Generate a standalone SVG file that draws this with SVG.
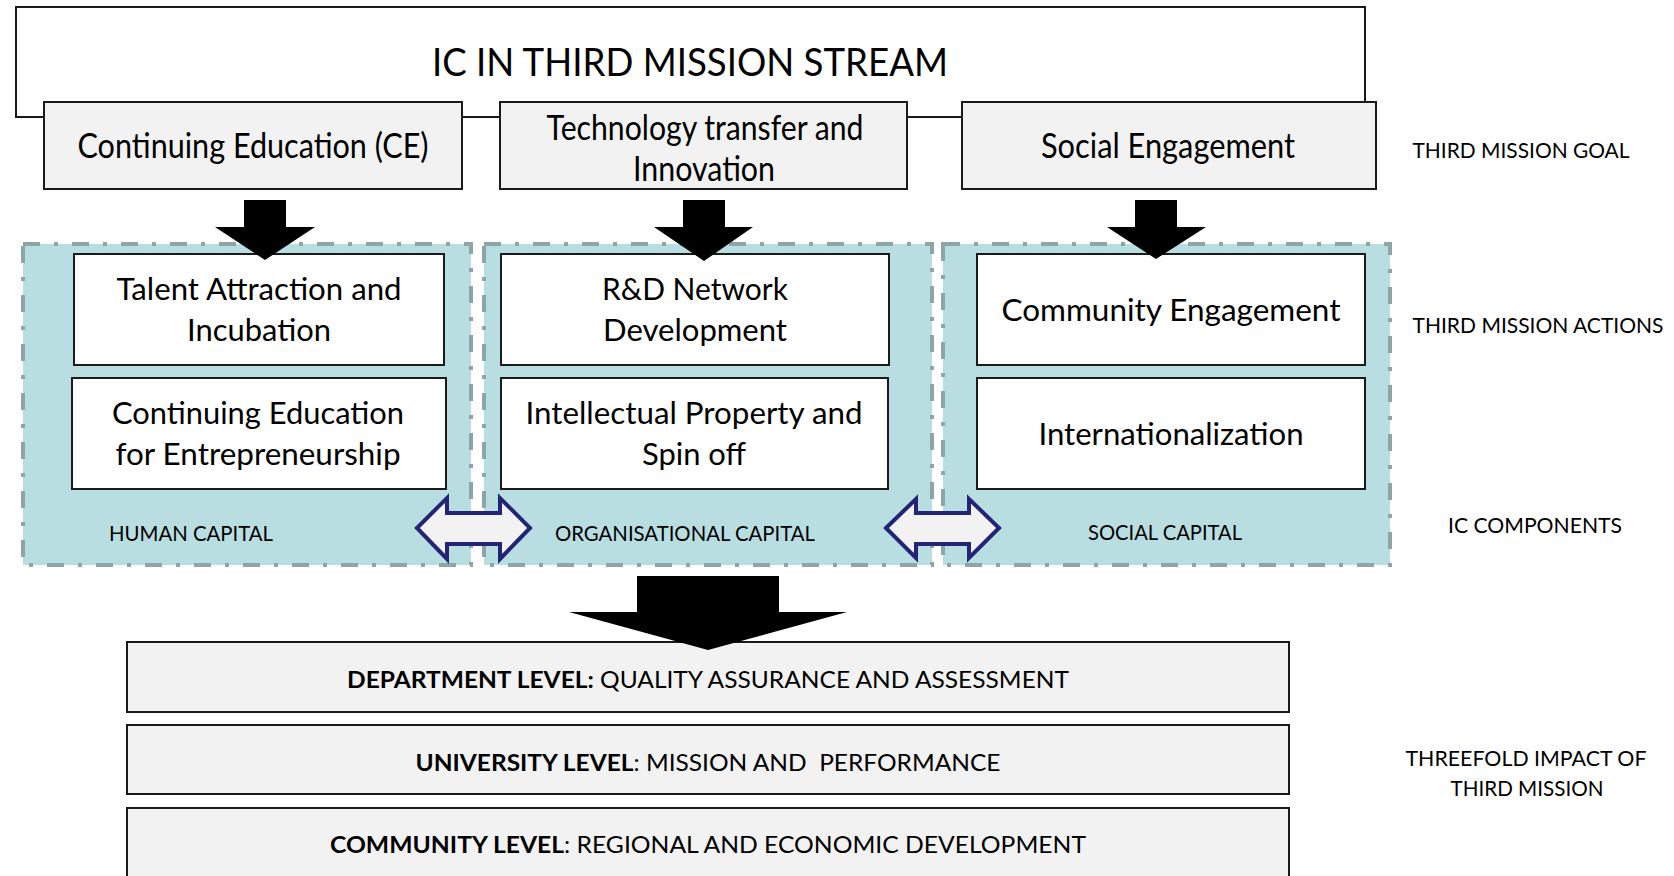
<svg xmlns="http://www.w3.org/2000/svg" width="1674" height="876" viewBox="0 0 1674 876">
<style>
text { font-family: Lato, "Open Sans", "Liberation Sans", sans-serif; fill:#000; text-anchor:middle; }
.box { stroke:#1a1a1a; stroke-width:2; }
.grey { fill:#f2f2f2; }
.white { fill:#ffffff; }
.cont { fill:#b9dee2; stroke:#8ea5a6; stroke-width:4; stroke-dasharray:17 14 4 14; }
.arrow { fill:#000000; }
.dbl { fill:#f2f2f2; stroke:#232476; stroke-width:4; stroke-linejoin:miter; }
.t-title { font-size:39px; }
.t-goal { font-size:35px; }
.t-act { font-size:31px; }
.t-cap { font-size:21px; }
.t-side { font-size:22px; }
.t-lvl { font-size:23.5px; }
.b { font-weight:700; }
</style>
<rect x="0" y="0" width="1674" height="876" fill="#ffffff"/>

<g id="stream">
  <rect class="box white" x="16" y="7" width="1349" height="110"/>
  <text class="t-title" x="690" y="76" textLength="516" lengthAdjust="spacingAndGlyphs">IC IN THIRD MISSION STREAM</text>
</g>

<g id="goal-ce">
  <rect class="box grey" x="44" y="102" width="418" height="87"/>
  <text class="t-goal" x="253" y="158" textLength="351" lengthAdjust="spacingAndGlyphs">Continuing Education (CE)</text>
</g>
<g id="goal-tech">
  <rect class="box grey" x="500" y="102" width="407" height="87"/>
  <text class="t-goal" x="705" y="140" textLength="317" lengthAdjust="spacingAndGlyphs">Technology transfer and</text>
  <text class="t-goal" x="704" y="181" textLength="142" lengthAdjust="spacingAndGlyphs">Innovation</text>
</g>
<g id="goal-social">
  <rect class="box grey" x="962" y="102" width="414" height="87"/>
  <text class="t-goal" x="1168" y="158" textLength="254" lengthAdjust="spacingAndGlyphs">Social Engagement</text>
</g>

<g id="human-capital">
  <rect class="cont" x="23" y="244" width="448" height="321"/>
  <text class="t-cap" x="191" y="541" textLength="164" lengthAdjust="spacingAndGlyphs">HUMAN CAPITAL</text>
</g>
<g id="organisational-capital">
  <rect class="cont" x="484" y="244" width="448" height="321"/>
  <text class="t-cap" x="685" y="541" textLength="260" lengthAdjust="spacingAndGlyphs">ORGANISATIONAL CAPITAL</text>
</g>
<g id="social-capital">
  <rect class="cont" x="943" y="244" width="447" height="321"/>
  <text class="t-cap" x="1165" y="540" textLength="154" lengthAdjust="spacingAndGlyphs">SOCIAL CAPITAL</text>
</g>

<g id="talent">
  <rect class="box white" x="74" y="254" width="370" height="111"/>
  <text class="t-act" x="259" y="300" textLength="285" lengthAdjust="spacingAndGlyphs">Talent Attraction and</text>
  <text class="t-act" x="259" y="341" textLength="144" lengthAdjust="spacingAndGlyphs">Incubation</text>
</g>
<g id="ce-entrepreneurship">
  <rect class="box white" x="72" y="378" width="374" height="111"/>
  <text class="t-act" x="258" y="424" textLength="292" lengthAdjust="spacingAndGlyphs">Continuing Education</text>
  <text class="t-act" x="258" y="465" textLength="285" lengthAdjust="spacingAndGlyphs">for Entrepreneurship</text>
</g>
<g id="rd-network">
  <rect class="box white" x="501" y="254" width="388" height="111"/>
  <text class="t-act" x="695" y="300" textLength="186" lengthAdjust="spacingAndGlyphs">R&amp;D Network</text>
  <text class="t-act" x="695" y="341" textLength="184" lengthAdjust="spacingAndGlyphs">Development</text>
</g>
<g id="ip-spinoff">
  <rect class="box white" x="501" y="378" width="387" height="111"/>
  <text class="t-act" x="694" y="424" textLength="337" lengthAdjust="spacingAndGlyphs">Intellectual Property and</text>
  <text class="t-act" x="694" y="465" textLength="104" lengthAdjust="spacingAndGlyphs">Spin off</text>
</g>
<g id="community-engagement">
  <rect class="box white" x="977" y="254" width="388" height="111"/>
  <text class="t-act" x="1171" y="321" textLength="339" lengthAdjust="spacingAndGlyphs">Community Engagement</text>
</g>
<g id="internationalization">
  <rect class="box white" x="977" y="378" width="388" height="111"/>
  <text class="t-act" x="1171" y="445" textLength="265" lengthAdjust="spacingAndGlyphs">Internationalization</text>
</g>

<g id="department-level">
  <rect class="box grey" x="127" y="642" width="1162" height="70"/>
  <text class="t-lvl" x="708" y="688" textLength="722" lengthAdjust="spacingAndGlyphs"><tspan class="b">DEPARTMENT LEVEL:</tspan> QUALITY ASSURANCE AND ASSESSMENT</text>
</g>
<g id="university-level">
  <rect class="box grey" x="127" y="725" width="1162" height="69"/>
  <text class="t-lvl" x="708" y="771" textLength="585" lengthAdjust="spacingAndGlyphs" xml:space="preserve"><tspan class="b">UNIVERSITY LEVEL</tspan>: MISSION AND  PERFORMANCE</text>
</g>
<g id="community-level">
  <rect class="box grey" x="127" y="808" width="1162" height="80"/>
  <text class="t-lvl" x="708" y="853" textLength="756" lengthAdjust="spacingAndGlyphs"><tspan class="b">COMMUNITY LEVEL</tspan>: REGIONAL AND ECONOMIC DEVELOPMENT</text>
</g>

<g id="side-labels">
  <text class="t-side" x="1521" y="158" textLength="217" lengthAdjust="spacingAndGlyphs">THIRD MISSION GOAL</text>
  <text class="t-side" x="1538" y="333" textLength="251" lengthAdjust="spacingAndGlyphs">THIRD MISSION ACTIONS</text>
  <text class="t-side" x="1535" y="533" textLength="174" lengthAdjust="spacingAndGlyphs">IC COMPONENTS</text>
  <text class="t-side" x="1526" y="766" textLength="241" lengthAdjust="spacingAndGlyphs">THREEFOLD IMPACT OF</text>
  <text class="t-side" x="1527" y="796" textLength="153" lengthAdjust="spacingAndGlyphs">THIRD MISSION</text>
</g>

<g id="connectors">
  <polygon class="arrow" points="244,200 286,200 286,227 315,227 265,260 215,227 244,227"/>
  <polygon class="arrow" points="683,200 725,200 725,227 753,227 704,261 654,227 683,227"/>
  <polygon class="arrow" points="1135,200 1177,200 1177,227 1206,227 1156,259 1107,227 1135,227"/>
  <polygon class="arrow" points="637,576 779,576 779,612 847,612 708,650 569,612 637,612"/>
  <polygon class="dbl" points="417,528 447,498 447,513 500,513 500,498 530,528 500,559 500,544 447,544 447,559"/>
  <polygon class="dbl" points="886,528 916,499 916,513 969,513 969,499 999,528 969,558 969,544 916,544 916,558"/>
</g>
</svg>
